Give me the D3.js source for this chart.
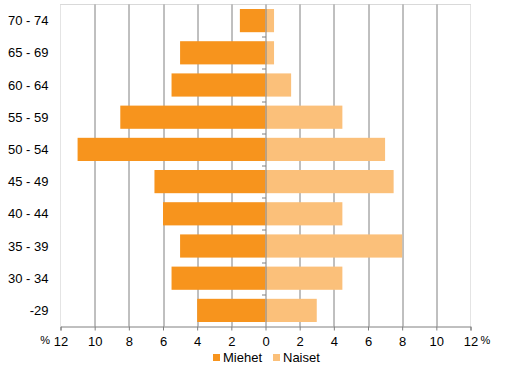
<!DOCTYPE html>
<html>
<head>
<meta charset="utf-8">
<script src="https://cdn.jsdelivr.net/npm/d3@7"></script>
<style>
  body { margin: 0; background: #fff; }
  text { font-family: "Liberation Sans", Arial, sans-serif; font-size: 13px; fill: #000; }
</style>
</head>
<body>
<div id="chart"></div>
<script>
var ageGroups = ["70 - 74", "65 - 69", "60 - 64", "55 - 59", "50 - 54", "45 - 49", "40 - 44", "35 - 39", "30 - 34", "-29"];
var miehet = [1.5, 5, 5.5, 8.5, 11, 6.5, 6, 5, 5.5, 4];
var naiset = [0.5, 0.5, 1.5, 4.5, 7, 7.5, 4.5, 8, 4.5, 3];
var tickValues = [-12, -10, -8, -6, -4, -2, 0, 2, 4, 6, 8, 10, 12];
var seriesNames = ["Miehet", "Naiset"];

var width = 508, height = 369;
var margin = {top: 4.5, right: 37.5, bottom: 42.5, left: 60.5};
var w = width - margin.left - margin.right,
    h = height - margin.top - margin.bottom;

var colors = {Miehet: "#F7941D", Naiset: "#FBC07A"};

var svg = d3.select("#chart").append("svg")
    .attr("width", width)
    .attr("height", height);

var g = svg.append("g")
    .attr("transform", "translate(" + margin.left + "," + margin.top + ")");

var x = d3.scaleLinear().domain([-12, 12]).range([0, w]);
var y = d3.scaleBand().domain(ageGroups).range([0, h]).paddingInner(0.28).paddingOuter(0.14);
var yb = d3.scaleBand().domain(ageGroups).range([0, h]);

// frame (light)
g.append("line").attr("x1", 0).attr("x2", w).attr("y1", 0).attr("y2", 0)
  .attr("stroke", "#d9d9d9");
g.append("line").attr("x1", 0).attr("x2", 0).attr("y1", 0).attr("y2", h)
  .attr("stroke", "#c8c8c8").attr("stroke-dasharray", "1,1");
g.append("line").attr("x1", w).attr("x2", w).attr("y1", 0).attr("y2", h)
  .attr("stroke", "#c8c8c8").attr("stroke-dasharray", "1,1");

// grid lines
g.append("g").selectAll("line")
  .data(tickValues.filter(function(d) { return Math.abs(d) < 12 && d !== 0; }))
  .enter().append("line")
    .attr("x1", function(d) { return Math.round(x(d)) + 0.5; })
    .attr("x2", function(d) { return Math.round(x(d)) + 0.5; })
    .attr("y1", 0).attr("y2", h)
    .attr("stroke", "#808080");

// bars
var rows = ageGroups.map(function(a, i) { return {age: a, m: miehet[i], n: naiset[i]}; });

g.append("g").attr("fill", colors.Miehet).selectAll("rect")
  .data(rows).enter().append("rect")
    .attr("x", function(d) { return x(-d.m); })
    .attr("y", function(d) { return y(d.age); })
    .attr("width", function(d) { return x(0) - x(-d.m); })
    .attr("height", y.bandwidth());

g.append("g").attr("fill", colors.Naiset).selectAll("rect")
  .data(rows).enter().append("rect")
    .attr("x", x(0))
    .attr("y", function(d) { return y(d.age); })
    .attr("width", function(d) { return x(d.n) - x(0); })
    .attr("height", y.bandwidth());

// zero axis with category ticks
var zx = Math.round(x(0)) + 0.5;
g.append("line").attr("x1", zx).attr("x2", zx).attr("y1", 0).attr("y2", h)
  .attr("stroke", "#808080");
g.append("g").selectAll("line")
  .data(ageGroups.slice(1))
  .enter().append("line")
    .attr("x1", zx - 4).attr("x2", zx)
    .attr("y1", function(d) { return Math.round(yb(d)) + 0.5; })
    .attr("y2", function(d) { return Math.round(yb(d)) + 0.5; })
    .attr("stroke", "#808080");

// category labels
g.append("g").selectAll("text")
  .data(ageGroups).enter().append("text")
    .attr("x", -12)
    .attr("y", function(d) { return yb(d) + yb.bandwidth() / 2; })
    .attr("dy", "0.35em")
    .attr("text-anchor", "end")
    .text(function(d) { return d; });

// bottom axis
var xAxis = g.append("g")
    .attr("transform", "translate(0," + h + ")")
    .call(d3.axisBottom(x).tickValues(tickValues).tickSize(4).tickPadding(6)
      .tickFormat(function(d) { return Math.abs(d); }));
xAxis.select(".domain").attr("stroke", "#808080");
xAxis.selectAll(".tick line").attr("stroke", "#808080");
xAxis.selectAll(".tick text").attr("font-size", 12.5).attr("font-family", null).attr("fill", "#000");

g.append("text").attr("x", -10.5).attr("y", h + 17).attr("text-anchor", "end")
  .style("font-size", "11px").text("%");
g.append("text").attr("x", w + 10).attr("y", h + 17).attr("text-anchor", "start")
  .style("font-size", "11px").text("%");

// legend
var legend = svg.append("g").selectAll("g")
  .data(seriesNames).enter().append("g")
    .attr("transform", function(d, i) { return "translate(" + (213 + i * 60) + ",354)"; });
legend.append("rect").attr("width", 7).attr("height", 7)
  .attr("fill", function(d) { return colors[d]; });
legend.append("text").attr("x", 10).attr("y", 7.7).text(function(d) { return d; });
</script>
</body>
</html>
